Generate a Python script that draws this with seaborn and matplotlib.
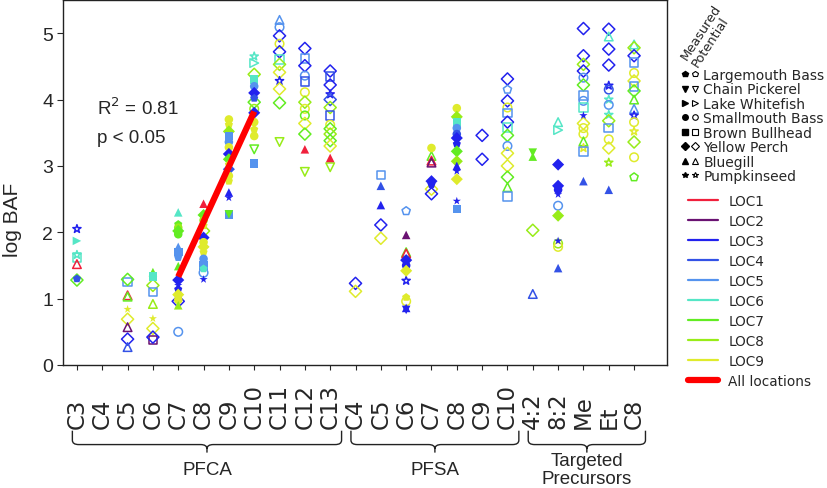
import matplotlib
matplotlib.use("Agg")
import matplotlib.pyplot as plt
import matplotlib.transforms as mtransforms
from matplotlib.lines import Line2D
from matplotlib.legend_handler import HandlerTuple
from matplotlib.path import Path
from matplotlib.patches import PathPatch
import pandas as pd
import seaborn as sns


# ---------------- DATA ----------------

cat_labels = ["C3", "C4", "C5", "C6", "C7", "C8", "C9", "C10", "C11", "C12", "C13",
              "C4", "C5", "C6", "C7", "C8", "C9", "C10",
              "4:2", "8:2", "Me", "Et", "C8"]

group_names = ["PFCA", "PFSA", "Targeted\nPrecursors"]
group_first = [0, 11, 18]
group_last = [10, 17, 22]

species_names = ["Largemouth Bass", "Chain Pickerel", "Lake Whitefish", "Smallmouth Bass",
                 "Brown Bullhead", "Yellow Perch", "Bluegill", "Pumpkinseed"]
species_codes = ["LB", "CP", "LW", "SB", "BB", "YP", "BG", "PS"]

loc_names = ["LOC1", "LOC2", "LOC3", "LOC4", "LOC5", "LOC6", "LOC7", "LOC8", "LOC9"]

# (log BAF, species, location, M = measured / P = potential)
pfca_c3 = [(2.05, "PS", 3, "P"), (1.87, "LW", 6, "M"), (1.66, "PS", 6, "P"), (1.62, "BB", 6, "P"),
           (1.52, "BG", 1, "P"), (1.30, "LB", 4, "M"), (1.28, "YP", 7, "P")]
pfca_c4 = []
pfca_c5 = [(1.25, "BB", 5, "P"), (1.29, "YP", 7, "P"), (1.05, "BG", 1, "P"), (1.03, "BG", 7, "P"),
           (0.84, "PS", 9, "M"), (0.69, "YP", 9, "P"), (0.57, "BG", 2, "P"), (0.39, "YP", 3, "P"),
           (0.27, "BG", 4, "P")]
pfca_c6 = [(1.40, "BG", 7, "M"), (1.33, "BB", 6, "M"), (1.20, "YP", 8, "P"), (1.10, "BB", 5, "P"),
           (0.92, "BG", 8, "P"), (0.70, "PS", 9, "M"), (0.55, "YP", 9, "P"), (0.38, "BB", 2, "P"),
           (0.42, "YP", 3, "P")]
pfca_c7 = [(2.30, "BG", 6, "M"), (2.12, "LB", 7, "M"), (2.07, "SB", 8, "M"), (2.02, "YP", 7, "M"),
           (1.97, "SB", 7, "M"), (1.78, "BG", 5, "M"), (1.70, "BB", 5, "M"), (1.62, "LB", 5, "M"),
           (1.49, "BG", 7, "M"), (1.28, "YP", 3, "M"), (1.20, "PS", 3, "M"), (1.14, "LB", 3, "M"),
           (1.06, "YP", 9, "M"), (0.98, "SB", 9, "M"), (0.96, "YP", 3, "P"), (0.90, "BG", 8, "M"),
           (0.50, "SB", 5, "P")]
pfca_c8 = [(2.43, "BG", 1, "M"), (2.26, "YP", 7, "M"), (2.18, "SB", 8, "M"), (2.10, "LB", 9, "M"),
           (2.02, "YP", 8, "P"), (1.92, "YP", 3, "M"), (1.85, "SB", 9, "M"), (1.78, "YP", 9, "M"),
           (1.70, "LB", 9, "M"), (1.60, "SB", 5, "M"), (1.50, "BB", 5, "M"), (1.45, "LB", 6, "M"),
           (1.39, "SB", 5, "P"), (1.29, "PS", 3, "M")]
pfca_c9 = [(3.70, "SB", 9, "M"), (3.62, "LB", 9, "M"), (3.52, "YP", 8, "M"), (3.45, "BB", 5, "M"),
           (3.36, "SB", 5, "M"), (3.28, "SB", 9, "M"), (3.18, "YP", 3, "M"), (3.10, "YP", 7, "M"),
           (3.02, "LB", 9, "M"), (2.95, "YP", 4, "M"), (2.85, "SB", 9, "M"), (2.77, "LB", 9, "M"),
           (2.60, "BG", 3, "M"), (2.52, "PS", 3, "M"), (2.27, "BB", 5, "M"), (2.27, "CP", 7, "M")]
pfca_c10 = [(4.65, "PS", 6, "P"), (4.55, "LW", 6, "P"), (4.38, "YP", 8, "P"), (4.30, "BB", 6, "M"),
            (4.20, "SB", 5, "M"), (4.10, "YP", 3, "M"), (4.02, "LB", 4, "M"), (3.96, "YP", 7, "P"),
            (3.86, "SB", 8, "P"), (3.80, "YP", 3, "M"), (3.66, "SB", 9, "M"), (3.55, "LB", 9, "M"),
            (3.45, "SB", 9, "M"), (3.25, "CP", 7, "P"), (3.04, "BB", 5, "M")]
pfca_c11 = [(5.20, "BG", 5, "P"), (5.09, "SB", 5, "P"), (4.96, "YP", 3, "P"), (4.84, "SB", 9, "P"),
            (4.72, "YP", 3, "P"), (4.60, "BB", 6, "P"), (4.53, "YP", 8, "P"), (4.41, "YP", 9, "P"),
            (4.28, "PS", 3, "P"), (4.16, "YP", 9, "P"), (3.95, "YP", 7, "P"), (3.36, "CP", 8, "P")]
pfca_c12 = [(4.77, "YP", 3, "P"), (4.62, "BB", 5, "P"), (4.51, "YP", 3, "P"), (4.36, "SB", 5, "P"),
            (4.27, "BB", 4, "P"), (4.11, "SB", 9, "P"), (3.96, "YP", 8, "P"), (3.86, "SB", 9, "P"),
            (3.76, "SB", 7, "P"), (3.64, "YP", 9, "P"), (3.48, "YP", 7, "P"), (3.25, "BG", 1, "M"),
            (2.91, "CP", 8, "P")]
pfca_c13 = [(4.43, "YP", 3, "P"), (4.35, "BB", 4, "P"), (4.22, "YP", 3, "P"), (4.08, "PS", 3, "P"),
            (4.00, "YP", 4, "P"), (3.88, "YP", 8, "P"), (3.76, "BB", 4, "P"), (3.62, "SB", 9, "P"),
            (3.56, "YP", 7, "P"), (3.48, "YP", 8, "P"), (3.38, "YP", 7, "P"), (3.30, "YP", 9, "P"),
            (3.12, "BG", 1, "M"), (2.98, "CP", 8, "P")]

pfsa_c4 = [(1.23, "YP", 3, "P"), (1.11, "YP", 9, "P")]
pfsa_c5 = [(2.86, "BB", 5, "P"), (2.70, "BG", 4, "M"), (2.41, "BG", 3, "M"), (2.11, "YP", 3, "P"),
           (1.91, "YP", 9, "P")]
pfsa_c6 = [(2.32, "LB", 5, "P"), (1.96, "BG", 2, "M"), (1.70, "BG", 7, "P"), (1.68, "BG", 1, "P"),
           (1.58, "YP", 3, "M"), (1.50, "SB", 3, "M"), (1.42, "YP", 9, "M"), (1.27, "PS", 3, "P"),
           (1.02, "LB", 9, "M"), (0.96, "SB", 9, "P"), (0.86, "BG", 3, "M"), (0.83, "CP", 3, "M")]
pfsa_c7 = [(3.27, "SB", 9, "M"), (3.15, "BG", 7, "P"), (3.08, "BG", 1, "P"), (3.05, "BG", 2, "P"),
           (2.77, "YP", 3, "M"), (2.72, "LB", 3, "M"), (2.65, "YP", 9, "P"), (2.58, "YP", 3, "P")]
pfsa_c8 = [(3.87, "SB", 9, "M"), (3.74, "YP", 8, "M"), (3.65, "BB", 6, "M"), (3.57, "SB", 5, "M"),
           (3.48, "SB", 4, "M"), (3.42, "YP", 3, "M"), (3.33, "LB", 3, "M"), (3.22, "YP", 7, "M"),
           (3.07, "YP", 8, "M"), (3.00, "BG", 3, "M"), (2.92, "PS", 3, "M"), (2.80, "YP", 9, "M"),
           (2.47, "PS", 3, "M"), (2.35, "BB", 5, "M")]
pfsa_c9 = [(3.46, "YP", 3, "P"), (3.10, "YP", 3, "P")]
pfsa_c10 = [(4.31, "YP", 3, "P"), (4.15, "LB", 5, "P"), (3.98, "YP", 3, "P"), (3.88, "SB", 9, "P"),
            (3.80, "BB", 5, "P"), (3.66, "YP", 3, "P"), (3.58, "BB", 6, "P"), (3.46, "YP", 7, "P"),
            (3.30, "SB", 5, "P"), (3.19, "YP", 9, "P"), (3.00, "YP", 9, "P"), (2.83, "YP", 7, "P"),
            (2.68, "BG", 7, "P"), (2.54, "BB", 5, "P")]

prec_42 = [(3.20, "CP", 7, "M"), (3.14, "BG", 7, "M"), (2.03, "YP", 8, "P"), (1.07, "BG", 4, "P")]
prec_82 = [(3.66, "BG", 6, "P"), (3.54, "LW", 6, "P"), (3.02, "YP", 3, "M"), (2.70, "YP", 3, "M"),
           (2.64, "SB", 3, "M"), (2.57, "PS", 3, "M"), (2.40, "SB", 5, "P"), (2.25, "YP", 8, "M"),
           (1.87, "PS", 3, "M"), (1.83, "SB", 8, "P"), (1.78, "SB", 9, "P"), (1.46, "BG", 4, "M")]
prec_me = [(5.07, "YP", 3, "P"), (4.66, "YP", 3, "P"), (4.53, "YP", 8, "P"), (4.43, "YP", 3, "P"),
           (4.33, "SB", 5, "P"), (4.22, "YP", 7, "P"), (4.06, "BB", 5, "P"), (3.98, "SB", 5, "P"),
           (3.88, "BB", 6, "P"), (3.76, "PS", 3, "M"), (3.64, "YP", 9, "P"), (3.57, "SB", 9, "P"),
           (3.48, "SB", 9, "P"), (3.37, "BG", 7, "P"), (3.27, "PS", 9, "P"), (3.22, "BB", 5, "P"),
           (2.77, "BG", 4, "M")]
prec_et = [(5.06, "YP", 3, "P"), (4.95, "BG", 6, "P"), (4.76, "YP", 3, "P"), (4.52, "YP", 3, "P"),
           (4.21, "PS", 3, "P"), (4.15, "SB", 4, "P"), (4.00, "PS", 6, "P"), (3.92, "SB", 5, "P"),
           (3.77, "PS", 6, "P"), (3.68, "YP", 8, "P"), (3.57, "BB", 5, "P"), (3.40, "SB", 9, "P"),
           (3.27, "YP", 9, "P"), (3.05, "PS", 8, "P"), (2.64, "BG", 4, "M")]
prec_c8 = [(4.83, "BG", 6, "P"), (4.78, "YP", 8, "P"), (4.66, "YP", 3, "P"), (4.56, "BB", 5, "P"),
           (4.40, "SB", 9, "P"), (4.28, "YP", 9, "P"), (4.20, "BB", 5, "P"), (4.13, "YP", 7, "P"),
           (4.00, "BG", 7, "P"), (3.86, "BG", 5, "P"), (3.76, "PS", 3, "P"), (3.66, "SB", 9, "P"),
           (3.52, "PS", 9, "P"), (3.36, "YP", 8, "P"), (3.13, "SB", 9, "P"), (2.83, "LB", 7, "P")]

columns = [pfca_c3, pfca_c4, pfca_c5, pfca_c6, pfca_c7, pfca_c8, pfca_c9, pfca_c10,
           pfca_c11, pfca_c12, pfca_c13,
           pfsa_c4, pfsa_c5, pfsa_c6, pfsa_c7, pfsa_c8, pfsa_c9, pfsa_c10,
           prec_42, prec_82, prec_me, prec_et, prec_c8]

# regression over PFCA C7-C10, all locations
fit_x = [4, 7]
fit_y = [1.33, 3.82]
r2_text = "R$^2$ = 0.81"
p_text = "p < 0.05"


# ---------------- STYLE ----------------

loc_colors = ["#f0203c", "#6a1272", "#2222ee", "#3352e6", "#5593ee",
              "#55e6c6", "#62ec22", "#98ec18", "#dfeb2c"]
palette = dict(zip(loc_names, loc_colors))
marker_list = ["p", "v", ">", "o", "s", "D", "^", "*"]
markers = dict(zip(species_codes, marker_list))

SANS = ["Liberation Sans", "DejaVu Sans"]


# ---------------- TABLE ----------------

rows = []
for i, col in enumerate(columns):
    for val, sp, loc, kind in col:
        rows.append({"x": i, "val": val, "species": sp,
                     "loc": f"LOC{loc}", "kind": kind})
df = pd.DataFrame(rows)


# ---------------- PLOT ----------------

sns.set_style("ticks")
plt.rcParams["font.family"] = ["DejaVu Sans"]

fig = plt.figure(figsize=(8.27, 4.89), dpi=100)
ax = fig.add_axes([63 / 827, 123 / 489, 604 / 827, 365 / 489])

potential = df[df["kind"] == "P"]
sns.scatterplot(data=potential, x="x", y="val", hue="loc", style="species",
                palette=palette, markers=markers, s=38, linewidth=0,
                legend=False, ax=ax)
coll = ax.collections[-1]
fc = coll.get_facecolors()
coll.set_facecolors("none")
coll.set_edgecolors(fc)
coll.set_linewidths(1.1)

measured = df[df["kind"] == "M"]
sns.scatterplot(data=measured, x="x", y="val", hue="loc", style="species",
                palette=palette, markers=markers, s=38, linewidth=0,
                legend=False, ax=ax)

ax.plot(fit_x, fit_y, color="#ff0000", lw=4.5, solid_capstyle="butt", zorder=5)

ax.text(0.8, 3.89, r2_text, fontsize=13.5, family=SANS, va="center")
ax.text(0.8, 3.43, p_text, fontsize=13.5, family=SANS, va="center")

ax.set_xlim(-0.55, 23.3)
ax.set_ylim(0, 5.5)
ax.set_xlabel("")
ax.set_ylabel("log BAF", fontsize=15, family=SANS)
ax.yaxis.set_label_coords(-0.068, 0.4)

ax.set_yticks(range(6))
ax.set_yticklabels([str(v) for v in range(6)], fontsize=14, family=SANS)
ax.set_xticks(range(len(cat_labels)))
ax.set_xticklabels(cat_labels, rotation=90, fontsize=16.5, va="bottom")
ax.tick_params(axis="x", length=3.5, width=0.8, pad=42)
ax.tick_params(axis="y", length=4, width=0.8, pad=3)
for sp in ax.spines.values():
    sp.set_visible(True)
    sp.set_linewidth(1.0)
    sp.set_color("#222222")

# group braces under the tick labels
trans = mtransforms.blended_transform_factory(ax.transData, ax.transAxes)
y_top, y_mid, y_tip = -0.18, -0.218, -0.24
for name, first, last in zip(group_names, group_first, group_last):
    x0, x1 = first - 0.18, last + 0.45
    xc = (x0 + x1) / 2
    rx, ry = 0.25, 0.012
    verts = [(x0, y_top), (x0, y_mid + ry), (x0, y_mid), (x0 + rx, y_mid),
             (xc - rx, y_mid), (xc, y_mid), (xc, y_mid - ry), (xc, y_tip),
             (xc, y_mid - ry), (xc, y_mid), (xc + rx, y_mid),
             (x1 - rx, y_mid), (x1, y_mid), (x1, y_mid + ry), (x1, y_top)]
    codes = [Path.MOVETO, Path.LINETO, Path.CURVE3, Path.CURVE3,
             Path.LINETO, Path.CURVE3, Path.CURVE3, Path.LINETO,
             Path.MOVETO, Path.CURVE3, Path.CURVE3,
             Path.LINETO, Path.CURVE3, Path.CURVE3, Path.LINETO]
    patch = PathPatch(Path(verts, codes), transform=trans, fill=False,
                      lw=1.0, color="#222222", clip_on=False)
    ax.add_patch(patch)
    ax.text(xc, -0.286, name, transform=trans, ha="center", va="center",
            fontsize=13.5, family=SANS, linespacing=1.08)

# species legend (measured / potential markers)
sp_handles = []
for m in marker_list:
    filled = Line2D([], [], marker=m, color="k", ls="", markersize=4)
    hollow = Line2D([], [], marker=m, mfc="none", mec="k", mew=0.8, ls="", markersize=4)
    sp_handles.append((filled, hollow))
leg1 = fig.legend(sp_handles, species_names, loc="upper left",
                  bbox_to_anchor=(681 / 827, 1 - 69 / 489), frameon=False,
                  fontsize=10, handlelength=1.3, handletextpad=0.3,
                  labelspacing=0.03, borderpad=0, borderaxespad=0,
                  handler_map={tuple: HandlerTuple(ndivide=None, pad=0.2)})
fig.text(700 / 827, 1 - 70 / 489, "Measured\nPotential", rotation=57,
         rotation_mode="anchor", ha="left", va="bottom", fontsize=9.3,
         linespacing=1.0)

# location legend
loc_handles = [Line2D([], [], color=c, lw=1.6) for c in loc_colors]
loc_handles.append(Line2D([], [], color="#ff0000", lw=4.5))
leg2 = fig.legend(loc_handles, loc_names + ["All locations"], loc="upper left",
                  bbox_to_anchor=(688 / 827, 1 - 195 / 489), frameon=False,
                  fontsize=9.8, handlelength=2.2, handletextpad=0.75,
                  labelspacing=0.44, borderpad=0, borderaxespad=0)

fig.savefig("out.png", dpi=100)
